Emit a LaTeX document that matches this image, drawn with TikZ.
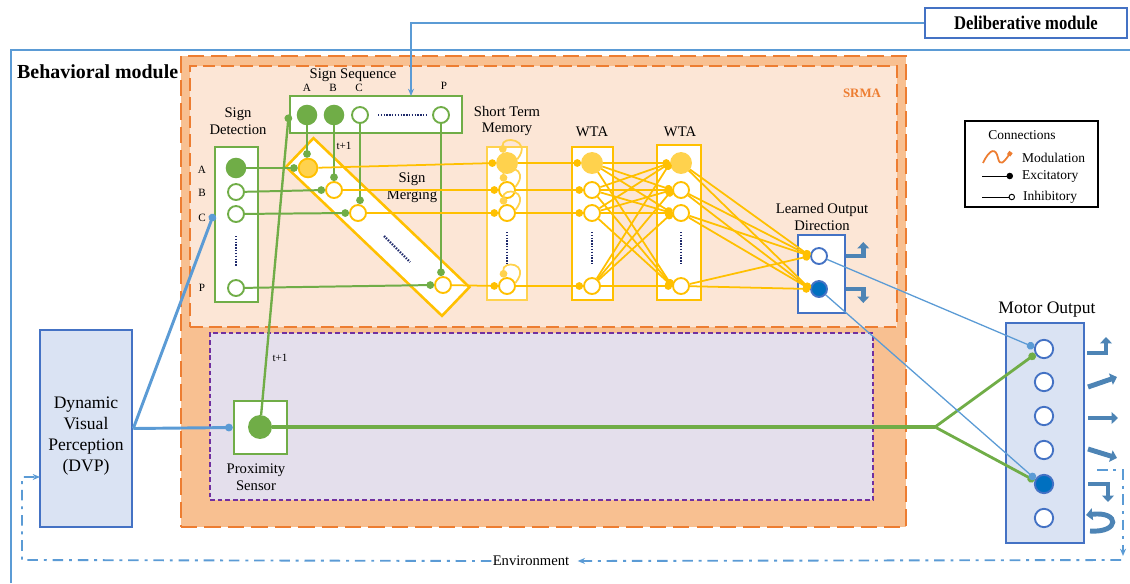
\documentclass[tikz,border=0pt]{standalone}
\usepackage{fontspec}
\setmainfont{Liberation Serif}
\usepackage{tikz}
\usetikzlibrary{arrows.meta,positioning,calc,fit}

\definecolor{srmagreen}{HTML}{70AD47}
\definecolor{srmagold}{HTML}{FFC000}
\definecolor{srmalightgold}{HTML}{FFD24D}
\definecolor{srmablue}{HTML}{4472C4}
\definecolor{srmasky}{HTML}{5B9BD5}
\definecolor{srmapale}{HTML}{DAE3F3}
\definecolor{srmadeep}{HTML}{0070C0}
\definecolor{srmaorange}{HTML}{ED7D31}
\definecolor{srmapeach}{HTML}{F8C091}
\definecolor{srmacream}{HTML}{FCE6D6}
\definecolor{srmapurple}{HTML}{7030A0}
\definecolor{srmalilac}{HTML}{E4DFEC}
\definecolor{srmanavy}{HTML}{1F2A6B}

\begin{document}
\begin{tikzpicture}[x=0.03cm,y=-0.03cm,
  >={Stealth[length=2.2mm,width=1.8mm]},
  dot/.style={-{Circle[length=6.5pt]}},
  unit/.style={circle,draw,line width=1.6pt,fill=white,minimum size=0.48cm,inner sep=0pt},
  gunit/.style={unit,draw=srmagreen},
  yunit/.style={unit,draw=srmagold},
  bunit/.style={unit,draw=srmablue},
  layer/.style={draw,line width=2.2pt,fill=white,inner sep=0pt},
  gline/.style={srmagreen,line width=1.7pt},
  yline/.style={srmagold,line width=1.5pt},
  bline/.style={srmasky,line width=1.1pt},
  dots/.style={srmanavy,line width=2pt,dash pattern=on 1.2pt off 1.2pt},
  lbl/.style={font=\fontsize{12.5}{14.5}\selectfont,align=center},
  tag/.style={font=\fontsize{9.5}{11}\selectfont},
  envline/.style={srmasky,line width=1.6pt,dash pattern=on 9pt off 5pt on 2.5pt off 5pt},
  turn/.style={srmasky!85!black,line width=4.2pt,-{Triangle[length=5.5pt,width=10pt]}}]

\useasboundingbox (0,0) rectangle (1130,583);

%% Behavioral module frame
\draw[srmasky,line width=2.5pt] (11,583) -- (11,50) -- (1130,50);
\node[anchor=west,font=\bfseries\fontsize{17}{19}\selectfont] (bmlabel) at (13,72) {Behavioral module};

%% Deliberative module
\node[draw=srmablue,line width=2pt,fill=white,minimum width=6.06cm,minimum height=0.9cm,
  font=\bfseries\fontsize{16.5}{18}\selectfont] (dm) at (1026,23) {\scalebox{0.86}[1]{Deliberative module}};

%% Orange areas
\node[fit={(181,56) (906,527)},inner sep=0pt,draw=srmaorange,fill=srmapeach,line width=2.5pt,
  dash pattern=on 14pt off 6pt] (bm) {};
\node[fit={(190,66) (897,327)},inner sep=0pt,draw=srmaorange,fill=srmacream,line width=1.6pt,
  dash pattern=on 11pt off 5pt] (srma) {};
\node[fit={(210,333) (873,500)},inner sep=0pt,draw=srmapurple,fill=srmalilac,line width=1.2pt,
  dash pattern=on 4pt off 2.5pt] (prox) {};
\node[font=\bfseries\fontsize{11}{13}\selectfont,text=srmaorange] (srmalabel) at (862,93) {SRMA};

%% Sign sequence
\node[layer,draw=srmagreen,fit={(290,96) (462,133)}] (ss) {};
\node[lbl] (sslabel) at (353,75) {Sign Sequence};
\node[gunit,fill=srmagreen,minimum size=0.56cm] (ssA) at (307,115) {};
\node[gunit,fill=srmagreen,minimum size=0.56cm] (ssB) at (334,115) {};
\node[gunit] (ssC) at (360,115) {};
\node[gunit] (ssP) at (441,115) {};
\draw[dots] (378,115) -- (426,115);
\foreach \s/\x in {A/307,B/333,C/359}
  \node[tag] (sstag\s) at (\x,88) {\s};
\node[tag] (sstagP) at (444,86) {P};

%% Sign detection
\node[layer,draw=srmagreen,fit={(215,147) (258,302)}] (sd) {};
\node[lbl] (sdlabel) at (238,121) {Sign\\Detection};
\node[gunit,fill=srmagreen,minimum size=0.56cm] (sdA) at (236,168) {};
\node[gunit] (sdB) at (236,192) {};
\node[gunit] (sdC) at (236,214) {};
\node[gunit] (sdP) at (236,288) {};
\draw[dots] (236,236) -- (236,266);
\foreach \s/\y in {A/170,B/193,C/218,P/288}
  \node[tag] (sdtag\s) at (202,\y) {\s};

%% Sign merging
\node[draw=srmagold,line width=2.2pt,fill=white,rotate=-43.7,minimum width=6.47cm,
  minimum height=1.19cm] (mg) at (377.75,227) {};
\node[lbl] (mglabel) at (412,188) {Sign\\Merging};
\node[yunit,fill=srmalightgold,minimum size=0.56cm] (mgA) at (308,168) {};
\node[yunit] (mgB) at (334,190) {};
\node[yunit] (mgC) at (358,213) {};
\node[yunit] (mgP) at (443,285) {};
\draw[dots] (384,236) -- (410,262);
\node[tag] (tA) at (344,146) {t+1};

%% Short term memory and WTA layers
\node[layer,draw=srmalightgold,fit={(487,147) (527,300)}] (stm) {};
\node[lbl] (stmlabel) at (507,121) {Short Term\\Memory};
\node[layer,draw=srmagold,fit={(572,147) (613,300)}] (wa) {};
\node[lbl] (walabel) at (592,132) {WTA};
\node[layer,draw=srmagold,fit={(657,145) (701,300)}] (wb) {};
\node[lbl] (wblabel) at (680,132) {WTA};
\foreach \n/\x in {st/507,wa/592,wb/681}{
  \node[yunit,draw=srmalightgold,fill=srmalightgold,minimum size=0.6cm] (\n A) at (\x,163) {};
  \node[yunit] (\n B) at (\x,190) {};
  \node[yunit] (\n C) at (\x,213) {};
  \node[yunit] (\n P) at (\x,286) {};
  \draw[dots] (\x,232) -- (\x,264);
}

%% Learned output direction
\node[layer,draw=srmablue,fit={(798,235) (845,313)}] (lod) {};
\node[lbl,font=\fontsize{12.5}{15.3}\selectfont] (lodlabel) at (822,217) {Learned Output\\Direction};
\node[bunit] (lodU) at (819,256) {};
\node[bunit,fill=srmadeep] (lodD) at (819,289) {};

%% Motor output
\node[layer,draw=srmablue,fill=srmapale,fit={(1006,323) (1084,543)}] (mo) {};
\node[font=\fontsize{15}{17}\selectfont] (molabel) at (1047,310) {Motor Output};
\foreach \s/\y in {A/349,B/382,C/416,D/450,F/518}
  \node[bunit,minimum size=0.55cm] (mo\s) at (1044,\y) {};
\node[bunit,fill=srmadeep,minimum size=0.55cm] (moE) at (1044,484) {};

%% Dynamic visual perception and proximity sensor
\node[layer,draw=srmablue,fill=srmapale,fit={(40,330) (132,527)}] (dvp) {};
\node[align=center,font=\fontsize{15}{18}\selectfont] (dvptext) at (86,436)
  {Dynamic\\Visual\\Perception\\(DVP)};
\node[layer,draw=srmagreen,fit={(234,401) (287,454)}] (psb) {};
\node[gunit,fill=srmagreen,minimum size=0.66cm] (ps) at (260,427) {};
\node[lbl] (pslabel) at (256,477) {Proximity\\Sensor};
\node[tag] (tB) at (280,358) {t+1};

%% Legend
\node[layer,draw=black,line width=1.5pt,fit={(965,121) (1098,207)}] (leg) {};
\node[font=\fontsize{11.5}{13}\selectfont] (legtitle) at (1022,135) {Connections};
\draw[srmaorange,line width=1.5pt,-{Square[length=3.5pt]}] (983,163) .. controls (990,148) and (996,148) .. (998,158)
  .. controls (1000,167) and (1004,162) .. (1011,152);
\node[anchor=west,font=\fontsize{11.5}{13}\selectfont] (legmod) at (1018,158) {Modulation};
\draw[black,line width=0.8pt,-{Circle[length=5.5pt]}] (982,176) -- (1013,176);
\node[anchor=west,font=\fontsize{11.5}{13}\selectfont] (legexc) at (1018,176) {Excitatory};
\draw[black,line width=0.8pt,-{Circle[open,length=5.5pt]}] (982,197) -- (1015,197);
\node[anchor=west,font=\fontsize{11.5}{13}\selectfont] (leginh) at (1019,197) {Inhibitory};

%% Green connections
\foreach \s in {A,B,C,P}{
  \draw[gline,dot] (sd\s) -- (mg\s.west);
  \draw[gline,dot] (ss\s) -- (ss\s |- mg\s.north);
}
\draw[gline,line width=2pt,dot] (ps) -- (ss.west);
\coordinate (split) at (935,427);
\draw[gline,line width=3pt] (ps) -- (split);
\draw[gline,line width=2.4pt,dot] (split) -- (moA.210);
\draw[gline,line width=2.4pt,dot] (split) -- (moE.160);

%% Yellow connections
\foreach \s in {A,B,C,P}{
  \draw[yline,dot] (mg\s) -- (st\s.west);
  \draw[srmalightgold,line width=1.5pt,dot] (st\s.20) .. controls +(16,-20) and +(-2,-18) .. (st\s.110);
  \draw[yline,dot] (st\s) -- (wa\s.west);
}
\foreach \i in {A,B,C,P}{
  \foreach \j in {A,B,C,P}{\draw[yline,dot] (wa\i) -- (wb\j.west);}
  \foreach \j in {U,D}{\draw[yline,dot] (wb\i) -- (lod\j.west);}
}

%% Blue connections
\draw[bline,dot] (lodU) -- (moA.170);
\draw[bline,dot] (lodD) -- (moE.150);
\draw[srmasky,line width=2.5pt,dot] (dvp.east) -- (psb.west);
\draw[srmasky,line width=2.5pt,dot] (dvp.east) -- (sd.west |- sdC);
\coordinate (ssin) at (411,96);
\draw[srmasky,line width=1.6pt,->] (dm.west) -| (ssin);

%% Output turns
\draw[turn] (lod.east |- lodU) -- ++(17,0) -- ++(0,-14);
\draw[turn] (lod.east |- lodD) -- ++(17,0) -- ++(0,14);
\draw[turn] (1087,353) -- (1106,353) -- (1106,337);
\draw[turn] (1088,387) -- (1117,377);
\draw[turn] (1088,418) -- (1118,418);
\draw[turn] (1088,449) -- (1117,458);
\draw[turn] (1088,484) -- (1108,484) -- (1108,502);
\draw[turn] (1090,531) .. controls (1120,533) and (1120,511) .. (1086,515);

%% Environment loop
\node[font=\fontsize{12.5}{14}\selectfont,fill=white,inner sep=1pt] (env) at (531,561) {Environment};
\coordinate (envin) at (40,477);
\draw[envline,->] (1097,470) -- (1123,470) -- (1123,556);
\draw[envline,->,shorten >=6pt] (1121,560) -- (env.east);
\draw[envline,->] (env.west) -- (22,560) -- (22,477) -- (envin);

\end{tikzpicture}
\end{document}
